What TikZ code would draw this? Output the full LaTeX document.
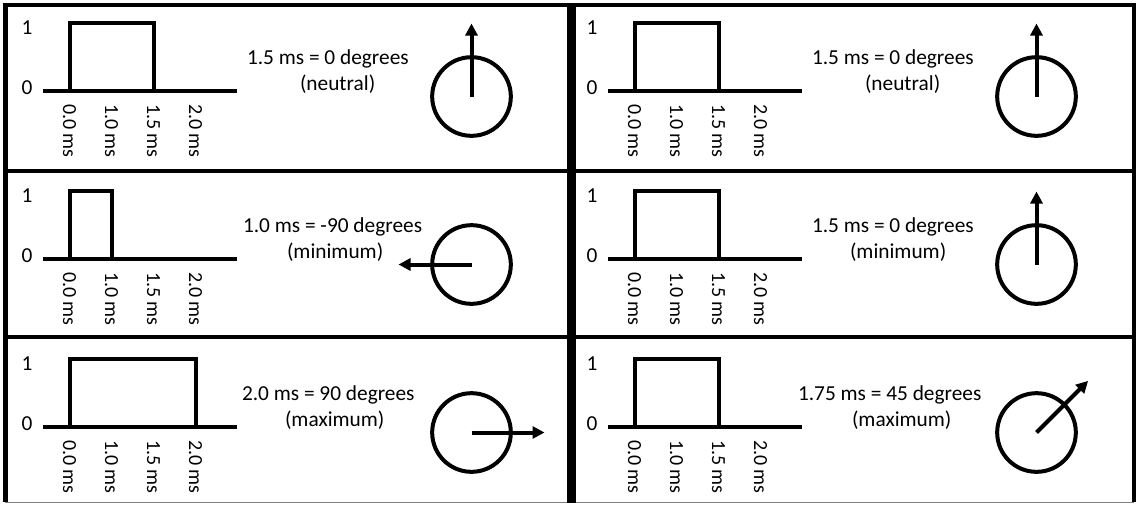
\documentclass[tikz,border=0pt]{standalone}
\usepackage{fontspec}
\setmainfont{Carlito}
\usetikzlibrary{arrows.meta}

\tikzset{
	lbl/.style={font=\fontsize{16}{19}\selectfont, inner sep=0pt},
	tick/.style={font=\fontsize{15}{18}\selectfont, inner sep=0pt, rotate=-90, anchor=west},
	txt/.style={font=\fontsize{16}{19}\selectfont, inner sep=0pt, anchor=base west},
	dial/.style={circle, draw, minimum size=59pt, inner sep=0pt},
	ptr/.style={-{Triangle[length=9pt,width=9pt]}}
}

\begin{document}
\begin{tikzpicture}[x=0.75pt, y=-0.75pt, line width=3pt]
\useasboundingbox (0,0) rectangle (1136,504);

% Rahmen
\draw[line width=3.5pt] (5.5,502) -- (5.5,5) -- (1134,5) -- (1134,502);
\draw[line width=0.75pt, gray] (5,502.5) -- (1134,502.5);
\draw[line width=6.75pt] (571.5,3) -- (571.5,503);
\foreach \y in {171, 337}
	\draw (5,\y) -- (1134,\y);

% Zellen
\foreach \dx/\dy/\w/\ta/\xa/\tb/\xb/\ang [count=\i] in {
	0/0/153.5/{1.5 ms = 0 degrees}/245/{(neutral)}/298/-90,
	0/168/111.5/{1.0 ms = -90 degrees}/241/{(minimum)}/285/180,
	0/336/195.5/{2.0 ms = 90 degrees}/240/{(maximum)}/283/0,
	565/0/153.5/{1.5 ms = 0 degrees}/245/{(neutral)}/298/-90,
	565/168/153.5/{1.5 ms = 0 degrees}/245/{(minimum)}/283/-90,
	565/336/153.5/{1.75 ms = 45 degrees}/231/{(maximum)}/285/-45}
{
\begin{scope}[shift={(\dx,\dy)}]
	\node[lbl] (hi\i) at (27,28) {1};
	\node[lbl] (lo\i) at (27,88) {0};
	\draw (43,91) -- (237,91);
	\draw (69.5,91) -- (69.5,22.5) -- (\w,22.5) -- (\w,91);
	\foreach \x/\lab [count=\k] in {69.5/0.0, 111.5/1.0, 153.5/1.5, 195.5/2.0}
		\node[tick] (tk\i\k) at (\x,102) {\lab\ ms};
	\node[txt] (ta\i) at (\xa,64) {\ta};
	\node[txt] (tb\i) at (\xb,90.7) {\tb};
	\node[dial] (dial\i) at (471.5,96.5) {};
	\draw[ptr] (dial\i.center) -- ++(\ang:73);
\end{scope}
}
\end{tikzpicture}
\end{document}
